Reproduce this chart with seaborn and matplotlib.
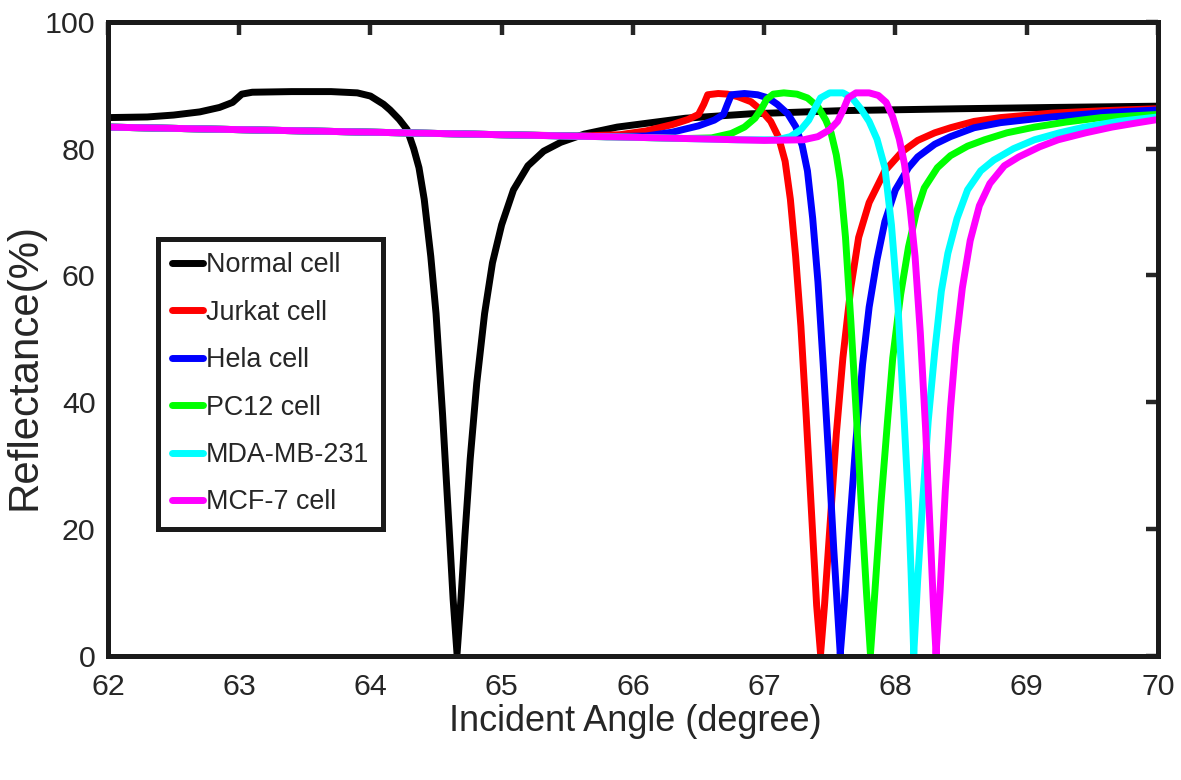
import numpy as np
import pandas as pd
import matplotlib
matplotlib.use("Agg")
import matplotlib.pyplot as plt
import seaborn as sns
from matplotlib import font_manager

# Reflectance (%) versus incident angle (degree) for each sample
normal_x = [62.0, 62.3, 62.5, 62.7, 62.85, 62.95, 63.02, 63.1, 63.4, 63.7, 63.9, 64.0, 64.1,
            64.15, 64.22, 64.28, 64.33, 64.37, 64.41, 64.46, 64.5, 64.55, 64.6, 64.63, 64.66,
            64.69, 64.72, 64.76, 64.81, 64.87, 64.93, 65.0, 65.09, 65.2, 65.32, 65.45, 65.63,
            65.88, 66.14, 66.4, 66.9, 67.6, 68.5, 69.2, 70.0]
normal_y = [84.9, 85.0, 85.3, 85.8, 86.5, 87.3, 88.6, 88.9, 89.0, 89.0, 88.8, 88.3, 87.0,
            86.1, 84.6, 83.0, 80.0, 77.0, 72.0, 63.0, 54.0, 38.0, 20.0, 9.0, 0.3,
            9.0, 19.0, 31.0, 43.0, 54.0, 62.0, 68.0, 73.5, 77.3, 79.6, 81.0, 82.3,
            83.4, 84.1, 84.8, 85.5, 86.0, 86.3, 86.5, 86.7]

jurkat_x = [62.0, 63.0, 64.0, 65.0, 65.6, 65.9, 66.1, 66.3, 66.42, 66.5, 66.54, 66.57, 66.65,
            66.72, 66.8, 66.9, 66.97, 67.05, 67.11, 67.16, 67.2, 67.24, 67.28, 67.32, 67.36,
            67.4, 67.43, 67.46, 67.5, 67.55, 67.6, 67.66, 67.72, 67.8, 67.92, 68.05, 68.17,
            68.3, 68.42, 68.6, 68.8, 69.19, 69.6, 70.0]
jurkat_y = [83.4, 83.0, 82.6, 82.2, 82.0, 82.2, 82.8, 83.8, 84.6, 85.4, 87.0, 88.5, 88.7,
            88.6, 88.2, 87.4, 86.2, 84.3, 81.8, 78.0, 72.0, 63.0, 52.0, 38.0, 23.0,
            8.0, 0.3, 8.0, 20.0, 35.0, 47.0, 58.0, 66.0, 71.5, 76.5, 79.5, 81.3,
            82.5, 83.3, 84.3, 84.9, 85.6, 86.0, 86.3]

hela_x = [62.0, 63.0, 64.0, 65.0, 65.8, 66.1, 66.3, 66.5, 66.62, 66.69, 66.72, 66.75, 66.85,
          66.95, 67.03, 67.1, 67.18, 67.24, 67.29, 67.33, 67.37, 67.41, 67.45, 67.49, 67.53,
          67.56, 67.58, 67.61, 67.65, 67.7, 67.75, 67.8, 67.86, 67.92, 68.0, 68.1, 68.17,
          68.3, 68.42, 68.6, 68.8, 69.19, 69.6, 70.0]
hela_y = [83.4, 83.0, 82.6, 82.2, 81.9, 82.0, 82.6, 83.6, 84.5, 85.4, 87.0, 88.5, 88.7,
          88.5, 88.0, 87.0, 85.5, 83.5, 80.5, 76.5, 69.0, 59.0, 46.0, 32.0, 17.0,
          7.0, 0.3, 8.0, 20.0, 34.0, 46.0, 55.0, 62.5, 68.5, 73.5, 77.0, 78.7,
          80.7, 81.9, 83.3, 84.1, 85.0, 85.7, 86.1]

pc12_x = [62.0, 63.0, 64.0, 65.0, 66.0, 66.4, 66.6, 66.75, 66.85, 66.93, 66.98, 67.02, 67.07,
          67.15, 67.25, 67.33, 67.41, 67.47, 67.51, 67.55, 67.58, 67.62, 67.66, 67.7, 67.74,
          67.78, 67.81, 67.84, 67.89, 67.94, 67.98, 68.04, 68.1, 68.16, 68.22, 68.32, 68.42,
          68.55, 68.68, 68.85, 69.06, 69.3, 69.57, 70.0]
pc12_y = [83.4, 83.0, 82.6, 82.2, 81.8, 81.6, 81.7, 82.4, 83.4, 84.8, 86.3, 87.8, 88.6,
          88.8, 88.6, 88.0, 86.6, 84.5, 82.5, 79.0, 75.0, 66.0, 53.0, 39.0, 24.0,
          10.0, 0.3, 9.0, 24.0, 37.0, 47.0, 57.0, 64.5, 70.0, 73.8, 77.0, 78.9,
          80.4, 81.4, 82.5, 83.4, 84.2, 84.9, 85.4]

mda_x = [62.0, 63.0, 64.0, 65.0, 66.0, 66.8, 67.1, 67.2, 67.28, 67.34, 67.39, 67.43, 67.5,
         67.6, 67.67, 67.74, 67.8, 67.86, 67.92, 67.97, 68.02, 68.06, 68.1, 68.12, 68.14,
         68.17, 68.21, 68.25, 68.3, 68.35, 68.4, 68.47, 68.55, 68.65, 68.75, 68.9, 69.06,
         69.25, 69.44, 69.7, 70.0]
mda_y = [83.4, 83.0, 82.6, 82.2, 81.8, 81.4, 81.4, 81.9, 83.0, 84.5, 86.5, 88.0, 88.8,
         88.8, 88.0, 86.2, 84.3, 81.5, 77.0, 68.0, 55.0, 40.0, 24.0, 13.0, 0.3,
         12.0, 25.0, 37.0, 48.0, 57.5, 63.5, 69.0, 73.5, 76.5, 78.2, 80.0, 81.4,
         82.5, 83.4, 84.3, 85.0]

mcf7_x = [62.0, 63.0, 64.0, 65.0, 66.0, 66.6, 67.0, 67.3, 67.41, 67.5, 67.56, 67.6, 67.64,
          67.7, 67.8, 67.87, 67.93, 67.98, 68.03, 68.07, 68.11, 68.15, 68.19, 68.23, 68.26,
          68.29, 68.31, 68.34, 68.38, 68.42, 68.46, 68.51, 68.57, 68.64, 68.72, 68.83, 68.94,
          69.1, 69.24, 69.45, 69.65, 69.85, 70.0]
mcf7_y = [83.4, 83.0, 82.6, 82.2, 81.8, 81.5, 81.3, 81.4, 81.9, 83.0, 84.3, 86.0, 88.0,
          88.8, 88.8, 88.4, 87.3, 85.0, 81.5, 77.5, 71.0, 63.0, 51.0, 36.0, 22.0,
          8.0, 0.3, 10.0, 26.0, 39.0, 49.0, 58.0, 65.5, 71.0, 74.5, 77.3, 78.7,
          80.3, 81.4, 82.5, 83.4, 84.1, 84.6]

labels = ["Normal cell", "Jurkat cell", "Hela cell", "PC12 cell", "MDA-MB-231", "MCF-7 cell"]
colors = ["#000000", "#ff0000", "#0000ff", "#00ff00", "#00ffff", "#ff00ff"]
x_ticks = [62, 63, 64, 65, 66, 67, 68, 69, 70]
y_ticks = [0, 20, 40, 60, 80, 100]

series = [(normal_x, normal_y), (jurkat_x, jurkat_y), (hela_x, hela_y),
          (pc12_x, pc12_y), (mda_x, mda_y), (mcf7_x, mcf7_y)]
frames = []
for name, (xs, ys) in zip(labels, series):
    frames.append(pd.DataFrame({"angle": xs, "reflectance": ys, "sample": name}))
df = pd.concat(frames, ignore_index=True)

sns.set_theme(style="white")
available = {f.name for f in font_manager.fontManager.ttflist}
narrow = "Liberation Sans Narrow" in available
family = "Liberation Sans Narrow" if narrow else "Liberation Sans"
scale = 1.0 if narrow else 0.84
plt.rcParams["font.family"] = [family, "DejaVu Sans"]

fig = plt.figure(figsize=(11.81, 7.80), dpi=100)
ax = fig.add_axes([0.0914, 0.159, 0.889, 0.813])

sns.lineplot(data=df, x="angle", y="reflectance", hue="sample", hue_order=labels,
             palette=dict(zip(labels, colors)), linewidth=5.0, estimator=None,
             sort=False, ax=ax)

ax.set_xlim(62, 70)
ax.set_ylim(0, 100)
ax.set_xticks(x_ticks)
ax.set_yticks(y_ticks)
ax.tick_params(direction="in", length=9, width=3.2, top=True, right=True,
               labelsize=26 * scale, colors="#262626")
ax.tick_params(axis="x", pad=12)
ax.tick_params(axis="y", pad=9)
for spine in ax.spines.values():
    spine.set_visible(True)
    spine.set_linewidth(3.6)
    spine.set_color("#1a1a1a")

ax.set_xlabel("Incident Angle (degree)", fontsize=31 * scale, color="#262626")
ax.set_ylabel("Reflectance(%)", fontsize=36 * scale, color="#262626")
ax.xaxis.set_label_coords(0.502, -0.075)
ax.yaxis.set_label_coords(-0.060, 0.457)

handles, _ = ax.get_legend_handles_labels()
leg = ax.legend(handles=handles, labels=labels, loc="upper left",
                bbox_to_anchor=(0.048, 0.658), borderaxespad=0, fancybox=False,
                framealpha=1, edgecolor="#1a1a1a", fontsize=23 * scale,
                handlelength=1.15, handletextpad=0.12, labelspacing=0.8,
                borderpad=0.5)
leg.get_frame().set_linewidth(3.6)
for line in leg.get_lines():
    line.set_linewidth(5)

fig.savefig("out.png", dpi=100)
